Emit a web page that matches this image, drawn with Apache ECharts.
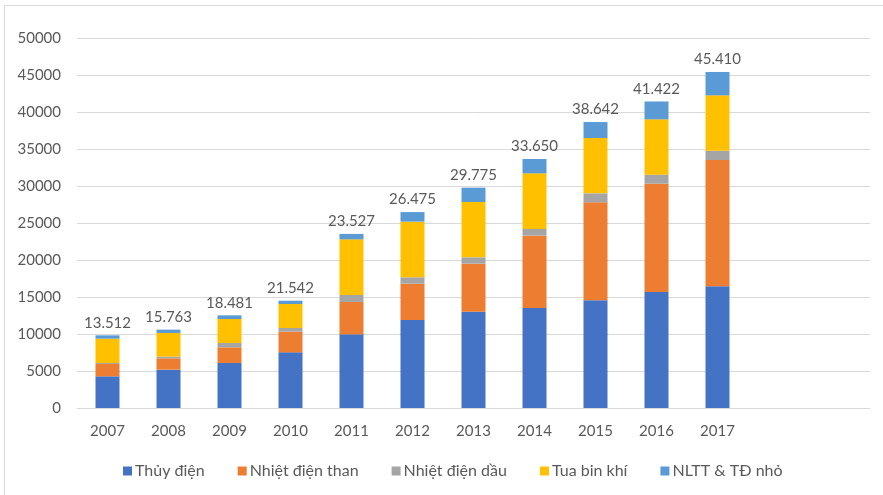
<!DOCTYPE html>
<html>
<head>
<meta charset="utf-8">
<script src="https://cdn.jsdelivr.net/npm/echarts@6/dist/echarts.min.js"></script>
<style>
  html, body { margin: 0; padding: 0; background: #fff; }
  #chart { width: 883px; height: 495px; }
</style>
</head>
<body>
<div id="chart"></div>
<script>
// Installed capacity by source (MW), 2007–2017
const years = ['2007', '2008', '2009', '2010', '2011', '2012', '2013', '2014', '2015', '2016', '2017', '', ''];
const seriesNames = ['Thủy điện', 'Nhiệt điện than', 'Nhiệt điện dầu', 'Tua bin khí', 'NLTT & TĐ nhỏ'];
const hydro   = [4280, 5180, 6080, 7520, 9950, 11890, 13020, 13510, 14550, 15680, 16440];
const coal    = [1670, 1530, 2120, 2800, 4370, 4910, 6480, 9780, 13240, 14630, 17070];
const oil     = [130, 230, 580, 490, 950, 860, 860, 900, 1220, 1220, 1260];
const gas     = [3290, 3200, 3250, 3240, 7520, 7520, 7480, 7520, 7480, 7480, 7480];
const renew   = [450, 450, 490, 450, 737, 1295, 1935, 1940, 2152, 2412, 3160];
// Total system capacity labels shown above each column
const totals  = ['13.512', '15.763', '18.481', '21.542', '23.527', '26.475', '29.775', '33.650', '38.642', '41.422', '45.410'];
const yTicks  = { min: 0, max: 50000, interval: 5000 };

const colors = ['#4472C4', '#ED7D31', '#A5A5A5', '#FFC000', '#5B9BD5'];
const font = 'Lato, "Liberation Sans", "Noto Sans", sans-serif';
const textColor = '#595959';

const values = [hydro, coal, oil, gas, renew];

const series = values.map((arr, i) => {
  const s = {
    name: seriesNames[i],
    type: 'bar',
    stack: 'total',
    barWidth: 24,
    data: arr,
    itemStyle: { color: colors[i] },
    emphasis: { disabled: true }
  };
  if (i === values.length - 1) {
    s.label = {
      show: true,
      position: 'top',
      distance: 5,
      fontFamily: font,
      fontSize: 15,
      color: textColor,
      formatter: p => totals[p.dataIndex]
    };
  }
  return s;
});

const chart = echarts.init(document.getElementById('chart'), null, { renderer: 'canvas' });
chart.setOption({
  animation: false,
  backgroundColor: '#fff',
  graphic: [{
    type: 'rect',
    shape: { x: 4.5, y: 5.5, width: 900, height: 500 },
    style: { fill: 'none', stroke: '#D9D9D9', lineWidth: 1 },
    silent: true
  }],
  grid: { left: 77, right: 13, top: 38, bottom: 87, containLabel: false },
  legend: {
    data: seriesNames,
    left: 118,
    top: 458,
    itemWidth: 9,
    itemHeight: 9,
    itemGap: 33,
    icon: 'rect',
    textStyle: { fontFamily: font, fontSize: 16, color: textColor, padding: [0, 0, 0, -2] }
  },
  xAxis: {
    type: 'category',
    data: years,
    axisLine: { show: true, lineStyle: { color: '#D9D9D9', width: 1 } },
    axisTick: { show: false },
    axisLabel: { fontFamily: font, fontSize: 15, color: textColor, margin: 16 }
  },
  yAxis: {
    type: 'value',
    min: yTicks.min,
    max: yTicks.max,
    interval: yTicks.interval,
    axisLine: { show: false },
    axisTick: { show: false },
    splitLine: { lineStyle: { color: '#D9D9D9', width: 1 } },
    axisLabel: { fontFamily: font, fontSize: 15, color: textColor, margin: 16, formatter: v => String(v) }
  },
  series: series
});
</script>
</body>
</html>
